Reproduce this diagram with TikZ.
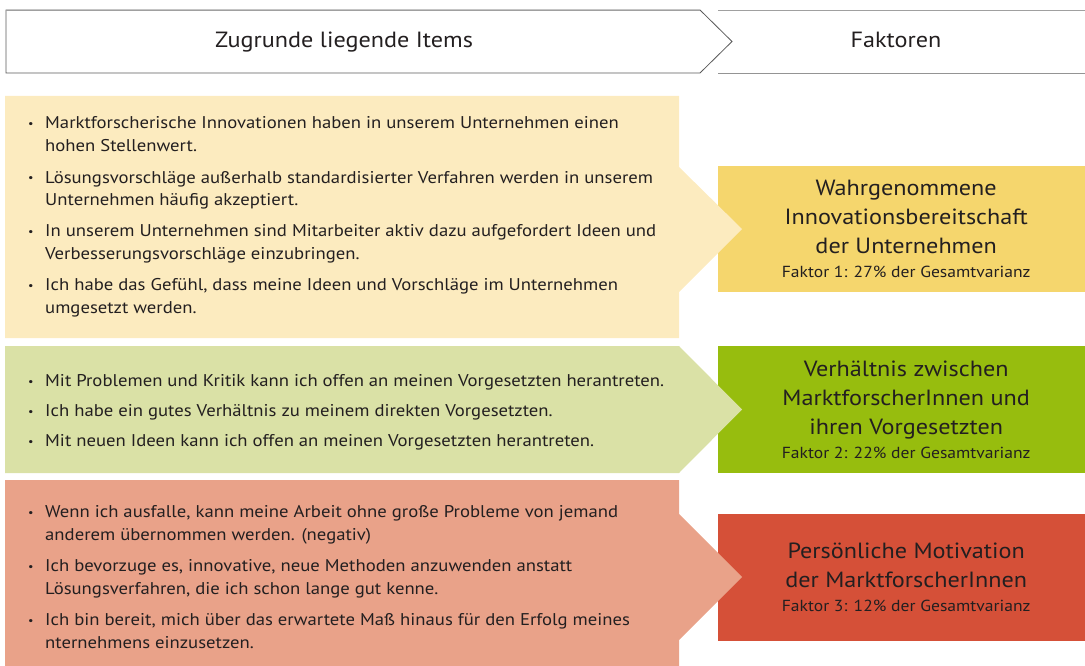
\documentclass[tikz,border=0pt]{standalone}
\usepackage{fontspec}
\setmainfont[FakeStretch=1.1]{PT Sans}

\definecolor{gelbhell}{HTML}{FCEBBF}
\definecolor{gelb}{HTML}{F5D66D}
\definecolor{gruenhell}{HTML}{DAE1A6}
\definecolor{gruen}{HTML}{97BD0E}
\definecolor{rothell}{HTML}{E9A289}
\definecolor{rot}{HTML}{D55038}
\definecolor{schrift}{HTML}{231F20}
\definecolor{rahmen}{HTML}{5A5A5A}
\definecolor{rahmenhell}{HTML}{A0A0A0}

\newcommand{\pkt}{\raisebox{1.5pt}{\fontsize{11}{11}\selectfont\textbullet}}

\tikzset{
  kopf/.style={draw=rahmen, line width=0.8pt, fill=white},
  kopftext/.style={anchor=base, text=schrift, font=\fontsize{22}{26}\selectfont},
  items/.style={anchor=base west, inner sep=0pt, text=schrift, font=\fontsize{17}{23}\selectfont},
  faktor/.style={anchor=north west, minimum width=376pt, inner sep=0pt},
  faktortext/.style={text=schrift, align=center, font=\fontsize{22}{29}\selectfont},
}

\begin{document}
\begin{tikzpicture}[x=1pt, y=-1pt]
  \useasboundingbox (0,0) rectangle (1085,666);

  % Kopfzeile
  \draw[kopf] (718,10) -- (1095,10) (1095,73) -- (718,73) -- cycle;
  \draw[kopf] (6,10) -- (700,10) -- (732,41.5) -- (700,73) -- (6,73) -- cycle;
  \draw[rahmenhell, line width=0.8pt] (6,10) -- (700,10) (718,10) -- (1095,10);
  \node[kopftext] (items) at (344,48) {Zugrunde liegende Items};
  \node[kopftext] (faktoren) at (896,48) {Faktoren};

  % Faktoren (unter den Pfeilspitzen)
  \node[faktor, fill=gelb, minimum height=126pt] (faktorA) at (718,166) {};
  \node[faktor, fill=gruen, minimum height=127pt] (faktorB) at (718,346) {};
  \node[faktor, fill=rot, minimum height=127pt] (faktorC) at (718,514) {};

  % Pfeile mit den Items
  \fill[gelbhell] (5,96) -- (679,96) -- (679,167) -- (742,229) -- (679,292) -- (679,338) -- (5,338) -- cycle;
  \fill[gruenhell] (5,346) -- (679,346) -- (742,409.5) -- (679,473) -- (5,473) -- cycle;
  \fill[rothell] (5,480) -- (679,480) -- (679,514) -- (742,577) -- (679,640) -- (679,666) -- (5,666) -- cycle;

  \node[items] (itemsA) at (28,129) {\begin{tabular}[t]{@{}p{17pt}@{}l@{}}
    \pkt & Marktforscherische Innovationen haben in unserem Unternehmen einen\\
         & hohen Stellenwert.\\[8pt]
    \pkt & Lösungsvorschläge außerhalb standardisierter Verfahren werden in unserem\\
         & Unternehmen häufig akzeptiert.\\[8pt]
    \pkt & In unserem Unternehmen sind Mitarbeiter aktiv dazu aufgefordert Ideen und\\
         & Verbesserungsvorschläge einzubringen.\\[8pt]
    \pkt & Ich habe das Gefühl, dass meine Ideen und Vorschläge im Unternehmen\\
         & umgesetzt werden.
  \end{tabular}};

  \node[items] (itemsB) at (28,386.5) {\begin{tabular}[t]{@{}p{17pt}@{}l@{}}
    \pkt & Mit Problemen und Kritik kann ich offen an meinen Vorgesetzten herantreten.\\[7pt]
    \pkt & Ich habe ein gutes Verhältnis zu meinem direkten Vorgesetzten.\\[7pt]
    \pkt & Mit neuen Ideen kann ich offen an meinen Vorgesetzten herantreten.
  \end{tabular}};

  \node[items] (itemsC) at (28,517.5) {\begin{tabular}[t]{@{}p{17pt}@{}l@{}}
    \pkt & Wenn ich ausfalle, kann meine Arbeit ohne große Probleme von jemand\\
         & anderem übernommen werden. (negativ)\\[8pt]
    \pkt & Ich bevorzuge es, innovative, neue Methoden anzuwenden anstatt\\
         & Lösungsverfahren, die ich schon lange gut kenne.\\[8pt]
    \pkt & Ich bin bereit, mich über das erwartete Maß hinaus für den Erfolg meines\\
         & nternehmens einzusetzen.
  \end{tabular}};

  % Beschriftung der Faktoren
  \node[faktortext] (titelA) at (faktorA.center)
    {Wahrgenommene\\Innovationsbereitschaft\\der Unternehmen\\[-5pt]
     {\fontsize{16}{20}\selectfont Faktor 1: 27\% der Gesamtvarianz}};
  \node[faktortext] (titelB) at (faktorB.center)
    {Verhältnis zwischen\\MarktforscherInnen und\\ihren Vorgesetzten\\[-5pt]
     {\fontsize{16}{20}\selectfont Faktor 2: 22\% der Gesamtvarianz}};
  \node[faktortext] (titelC) at (faktorC.center)
    {Persönliche Motivation\\der MarktforscherInnen\\[-5pt]
     {\fontsize{16}{20}\selectfont Faktor 3: 12\% der Gesamtvarianz}};
\end{tikzpicture}
\end{document}
